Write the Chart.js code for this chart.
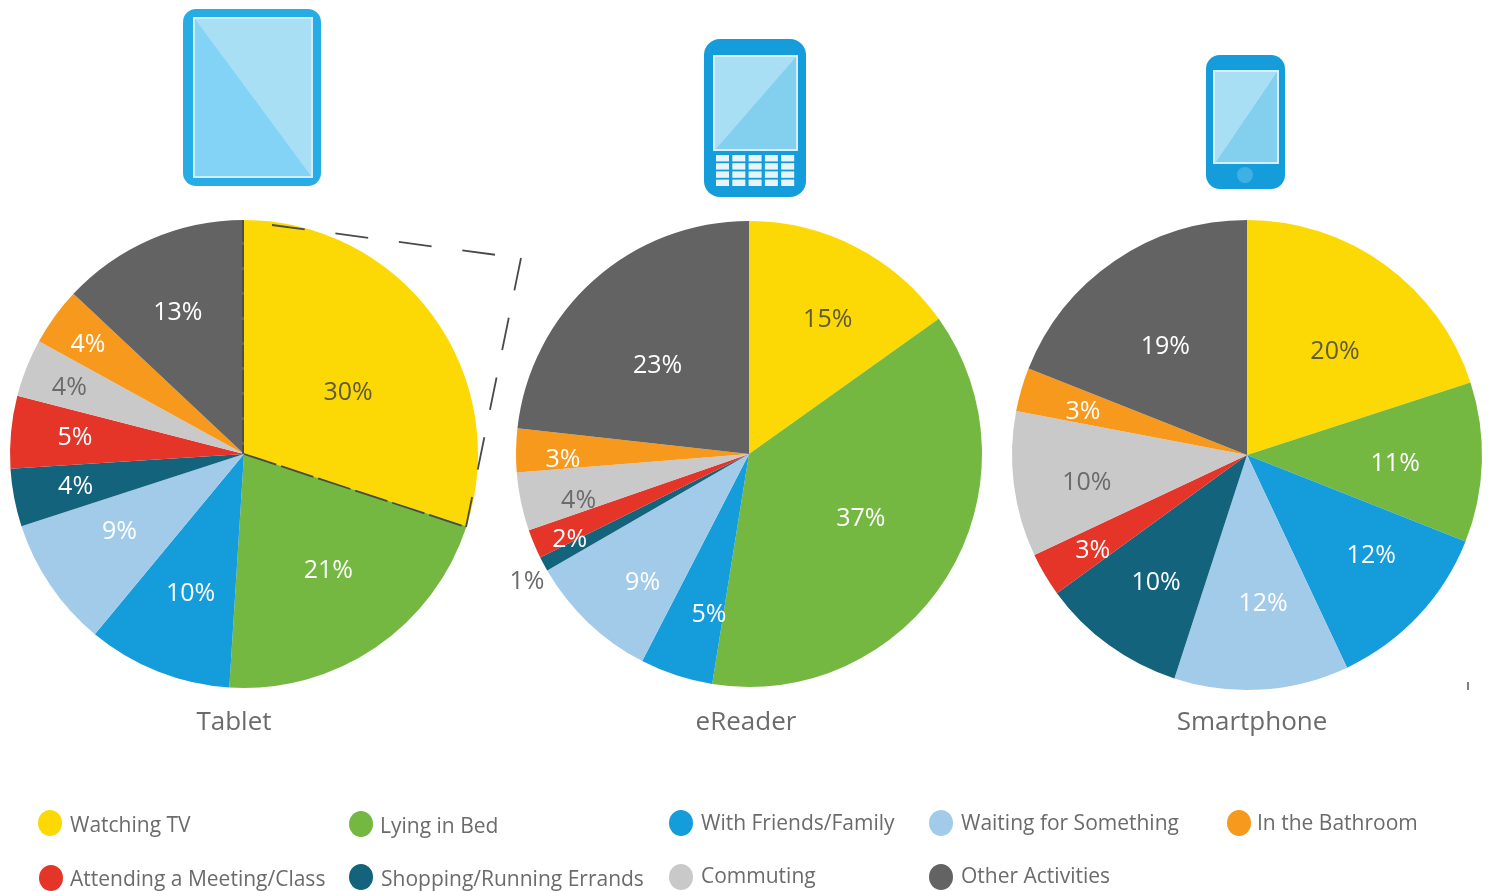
<!DOCTYPE html>
<html>
<head>
<meta charset="utf-8">
<title>Where people use their devices</title>
<script src="https://cdn.jsdelivr.net/npm/chart.js@4"></script>
<style>
    html, body { margin: 0; padding: 0; background: #fff; overflow: hidden; }
    #page { position: relative; width: 1488px; height: 891px; font-family: "Open Sans", sans-serif; color: #6b6b6b; }
    #page canvas { position: absolute; }
    #overlay { position: absolute; left: 0; top: 0; }
    .deviceName { position: absolute; top: 702px; font-size: 26px; line-height: 36px; transform: translateX(-50%); white-space: nowrap; }
    .legendDot { position: absolute; width: 24px; height: 26px; border-radius: 50%; }
    .legendText { position: absolute; font-size: 21px; line-height: 30px; white-space: nowrap; }
</style>
</head>
<body>
<div id="page">
    <canvas id="tabletPie"></canvas>
    <canvas id="ereaderPie"></canvas>
    <canvas id="smartphonePie"></canvas>
    <svg id="overlay" width="1488" height="891" xmlns="http://www.w3.org/2000/svg"></svg>
</div>

<script>
// Chart data
const categories = ['Watching TV', 'Lying in Bed', 'With Friends/Family', 'Waiting for Something', 'Shopping/Running Errands', 'Attending a Meeting/Class', 'Commuting', 'In the Bathroom', 'Other Activities'];
const deviceNames = ['Tablet', 'eReader', 'Smartphone'];
const tabletValues = [30, 21, 10, 9, 4, 5, 4, 4, 13];
const ereaderValues = [15, 37, 5, 9, 1, 2, 4, 3, 23];
const smartphoneValues = [20, 11, 12, 12, 10, 3, 10, 3, 19];

const sliceColors = ['#fcd804', '#74b842', '#159cdb', '#a2cbea', '#12637b', '#e53428', '#c9c9c9', '#f7991c', '#636363'];
const labelColors = ['#5f5a3a', '#fff', '#fff', '#fff', '#fff', '#fff', '#6b6b6b', '#fff', '#fff'];

// How far each percent label sits from the middle of its slice
const tabletNudge = [[0, 15], [12, 10], [-6, 20], [-18, 6], [-42, 9], [-41, -4], [-55, -19], [-52, -33], [-15, -23]];
const ereaderNudge = [[20, -20], [3, -3], [0, 39], [-18, 36], [-109, 67], [-61, 36], [-45, 21], [-58, 8], [-6, 7]];
const smartphoneNudge = [[12, 1], [19, 5], [30, 12], [8, 20], [-15, 23], [-43, 30], [-32, 12], [-40, -7], [-9, -1]];

// Plugin that writes the percent labels onto the slices
const percentLabels = {
    id: 'percentLabels',
    afterDatasetsDraw(chart, args, opts) {
        const ctx = chart.ctx;
        const values = chart.data.datasets[0].data;
        ctx.save();
        ctx.font = '400 25px "Open Sans", sans-serif';
        ctx.textAlign = 'center';
        ctx.textBaseline = 'middle';
        chart.getDatasetMeta(0).data.forEach((arc, i) => {
            const mid = (arc.startAngle + arc.endAngle) / 2;
            const x = arc.x + Math.cos(mid) * arc.outerRadius * 0.55 + opts.nudge[i][0];
            const y = arc.y + Math.sin(mid) * arc.outerRadius * 0.55 + opts.nudge[i][1];
            ctx.fillStyle = opts.outside === i ? '#6b6b6b' : labelColors[i];
            ctx.fillText(values[i] + '%', x, y);
        });
        ctx.restore();
    }
};

// Padding leaves room on the canvas for a label that falls outside the pie
const piePadding = 20;

function drawPie(id, values, nudge, cx, cy, radius, outside) {
    const canvas = document.getElementById(id);
    canvas.width = (radius + piePadding) * 2;
    canvas.height = (radius + piePadding) * 2;
    canvas.style.left = (cx - radius - piePadding) + 'px';
    canvas.style.top = (cy - radius - piePadding) + 'px';
    return new Chart(canvas, {
        type: 'pie',
        data: {
            labels: categories,
            datasets: [{ data: values, backgroundColor: sliceColors, borderWidth: 0 }]
        },
        options: {
            responsive: false,
            animation: false,
            layout: { padding: piePadding },
            plugins: {
                legend: { display: false },
                tooltip: { enabled: false },
                percentLabels: { nudge: nudge, outside: outside }
            }
        },
        plugins: [percentLabels]
    });
}

drawPie('tabletPie', tabletValues, tabletNudge, 244, 454, 234, -1);
drawPie('ereaderPie', ereaderValues, ereaderNudge, 749, 454, 233, 4);
drawPie('smartphonePie', smartphoneValues, smartphoneNudge, 1247, 455, 235, -1);

// Names under the pies
const page = document.getElementById('page');
const nameCenters = [234, 746, 1252];
deviceNames.forEach((name, i) => {
    const el = document.createElement('div');
    el.className = 'deviceName';
    el.style.left = nameCenters[i] + 'px';
    el.textContent = name;
    page.appendChild(el);
});

// Legend, in the order of the reference
const legendLayout = [
    { cat: 0, dot: [50, 823], text: [70, 809] },
    { cat: 1, dot: [361, 824], text: [380, 810] },
    { cat: 2, dot: [681, 823], text: [701, 807] },
    { cat: 3, dot: [941, 823], text: [961, 807] },
    { cat: 7, dot: [1239, 823], text: [1257, 807] },
    { cat: 5, dot: [51, 878], text: [70, 863] },
    { cat: 4, dot: [361, 877], text: [381, 863] },
    { cat: 6, dot: [681, 877], text: [701, 860] },
    { cat: 8, dot: [941, 877], text: [961, 860] }
];
legendLayout.forEach(item => {
    const dot = document.createElement('div');
    dot.className = 'legendDot';
    dot.style.left = (item.dot[0] - 12) + 'px';
    dot.style.top = (item.dot[1] - 13) + 'px';
    dot.style.background = sliceColors[item.cat];
    page.appendChild(dot);
    const text = document.createElement('div');
    text.className = 'legendText';
    text.style.left = item.text[0] + 'px';
    text.style.top = item.text[1] + 'px';
    text.textContent = categories[item.cat];
    page.appendChild(text);
});

// Device icons and the dashed callout
const svg = document.getElementById('overlay');
function add(tag, attrs) {
    const el = document.createElementNS('http://www.w3.org/2000/svg', tag);
    Object.keys(attrs).forEach(k => el.setAttribute(k, attrs[k]));
    svg.appendChild(el);
    return el;
}

// Tablet
add('rect', { x: 183, y: 9, width: 138, height: 177, rx: 13, fill: '#27ade6' });
add('rect', { x: 194, y: 18, width: 118, height: 159, fill: '#a9dff5', stroke: '#cdeefa', 'stroke-width': 2 });
add('polygon', { points: '195,19 311,176 195,176', fill: '#82d3f5' });

// eReader
add('rect', { x: 704, y: 39, width: 102, height: 158, rx: 16, fill: '#159cdb' });
add('rect', { x: 714, y: 56, width: 83, height: 94, fill: '#a9dff5', stroke: '#d5f0fa', 'stroke-width': 2 });
add('polygon', { points: '796,57 796,149 716,149', fill: '#82cfee' });
for (let row = 0; row < 4; row++) {
    for (let col = 0; col < 5; col++) {
        add('rect', { x: 716 + col * 16.3, y: 155 + row * 8.2, width: 13, height: 6.4, fill: '#e6f5fc' });
    }
}

// Smartphone
add('rect', { x: 1206, y: 55, width: 79, height: 134, rx: 14, fill: '#159cdb' });
add('rect', { x: 1214, y: 71, width: 64, height: 92, fill: '#a9dff5', stroke: '#d5f0fa', 'stroke-width': 2 });
add('polygon', { points: '1277,72 1277,162 1216,162', fill: '#82cfee' });
add('circle', { cx: 1245, cy: 175, r: 8, fill: '#3fb0e4' });

// Dashed callout from the yellow slice towards the next pie
const dashLines = [
    { from: [272, 225], to: [497, 255], dash: '33 31' },
    { from: [521, 258], to: [466, 527], dash: '33 28' },
    { from: [244, 454], to: [466, 527], dash: '34 5' },
    { from: [243, 220], to: [243, 454], dash: '22 3' }
];
dashLines.forEach(line => {
    add('line', {
        x1: line.from[0], y1: line.from[1], x2: line.to[0], y2: line.to[1],
        stroke: '#4a4a4a', 'stroke-width': 1.8, 'stroke-dasharray': line.dash
    });
});
add('line', { x1: 1468, y1: 682, x2: 1468, y2: 690, stroke: '#555', 'stroke-width': 1.5 });
</script>
</body>
</html>
